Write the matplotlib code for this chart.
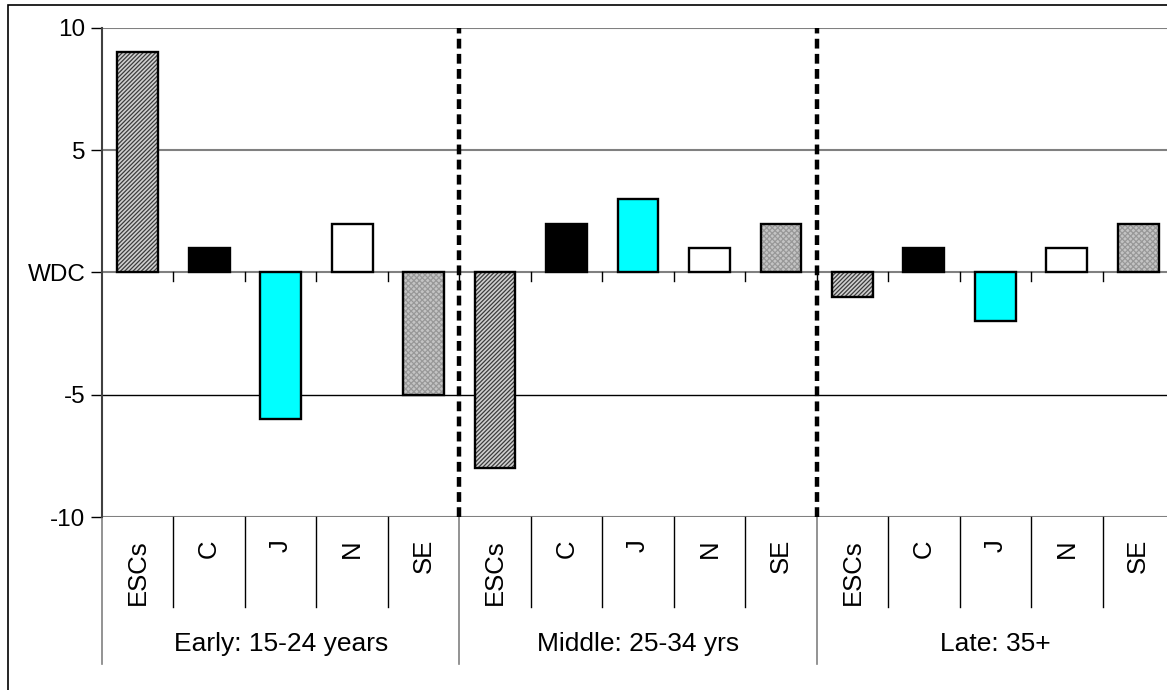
import matplotlib
matplotlib.use("Agg")
import matplotlib.pyplot as plt
from matplotlib.patches import Rectangle

plt.rcParams["font.family"] = ["Liberation Sans", "DejaVu Sans"]
plt.rcParams["hatch.linewidth"] = 0.9

# data
groups = ["Early: 15-24 years", "Middle: 25-34 yrs", "Late: 35+"]
categories = ["ESCs", "C", "J", "N", "SE"]
early = [9, 1, -6, 2, -5]
middle = [-8, 2, 3, 1, 2]
late = [-1, 1, -2, 1, 2]
ytick_vals = [-10, -5, 0, 5, 10]
ytick_labels = ["-10", "-5", "WDC", "5", "10"]

# style per category
styles = {
    "ESCs": dict(facecolor="#d0d0d0", hatch="////////", hatch_color="#3c3c3c"),
    "C": dict(facecolor="black", hatch=None, hatch_color="black"),
    "J": dict(facecolor="#00ffff", hatch=None, hatch_color="black"),
    "N": dict(facecolor="white", hatch=None, hatch_color="black"),
    "SE": dict(facecolor="#c4c4c4", hatch="xxxxxx", hatch_color="#989898"),
}

fig = plt.figure(figsize=(11.67, 6.90), dpi=100)
fig.patches.append(Rectangle((8 / 1167, -0.1), 1.2, 1.1 - 5 / 690,
                             transform=fig.transFigure, fill=False,
                             edgecolor="black", linewidth=1.2))
ax = fig.add_axes([102 / 1167, 173 / 690, 1072 / 1167, 489 / 690])

values = early + middle + late
ncat = len(categories)
for i, v in enumerate(values):
    st = styles[categories[i % ncat]]
    bar = ax.bar(i, v, width=0.57, color=st["facecolor"], edgecolor="black",
                 linewidth=1.7, hatch=st["hatch"], zorder=3)[0]
    if st["hatch"]:
        bar._hatch_color = matplotlib.colors.to_rgba(st["hatch_color"])

n = len(values)
ax.set_xlim(-0.5, n - 0.5)
ax.set_ylim(-10, 10)

# gridlines
for y in [10, 5]:
    ax.axhline(y, color="#808080", linewidth=1.5, zorder=1)
ax.axhline(-5, color="black", linewidth=1.0, zorder=1)
ax.axhline(0, color="#808080", linewidth=1.5, zorder=2)
ax.axhline(-10, color="#808080", linewidth=1.5, zorder=2)

# small ticks along the zero line
for b in range(n - 1):
    ax.plot([b + 0.5, b + 0.5], [0, -0.33], color="black", linewidth=1, zorder=2)

# group separators
for g in range(1, len(groups)):
    ax.axvline(g * ncat - 0.5, color="black", linewidth=3.2,
               linestyle=(0, (2.2, 1.2)), zorder=4)

for s in ["top", "right", "bottom"]:
    ax.spines[s].set_visible(False)
ax.spines["left"].set_color("#404040")
ax.spines["left"].set_linewidth(1.5)

ax.set_xticks([])
ax.set_yticks(ytick_vals)
ax.set_yticklabels(ytick_labels, fontsize=17.5)
ax.tick_params(axis="y", direction="out", length=8, width=1, pad=4)

# category axis below the plot
cell_bottom = -13.7
group_bottom = -16.03
ax.plot([-0.5, -0.5], [-10, group_bottom], color="#808080", linewidth=1.2,
        clip_on=False)
for b in range(n - 1):
    x = b + 0.5
    if (b + 1) % ncat == 0:
        ax.plot([x, x], [-10, group_bottom], color="#808080", linewidth=1.2,
                clip_on=False)
    else:
        ax.plot([x, x], [-10, cell_bottom], color="black", linewidth=1,
                clip_on=False)
for i in range(n):
    ax.text(i, -10.9, categories[i % ncat], rotation=90, ha="center",
            va="top", fontsize=18.5, clip_on=False)
for g, name in enumerate(groups):
    ax.text(g * ncat + (ncat - 1) / 2, -15.2, name, ha="center", va="center",
            fontsize=19, clip_on=False)

fig.savefig("out.png", dpi=100)
